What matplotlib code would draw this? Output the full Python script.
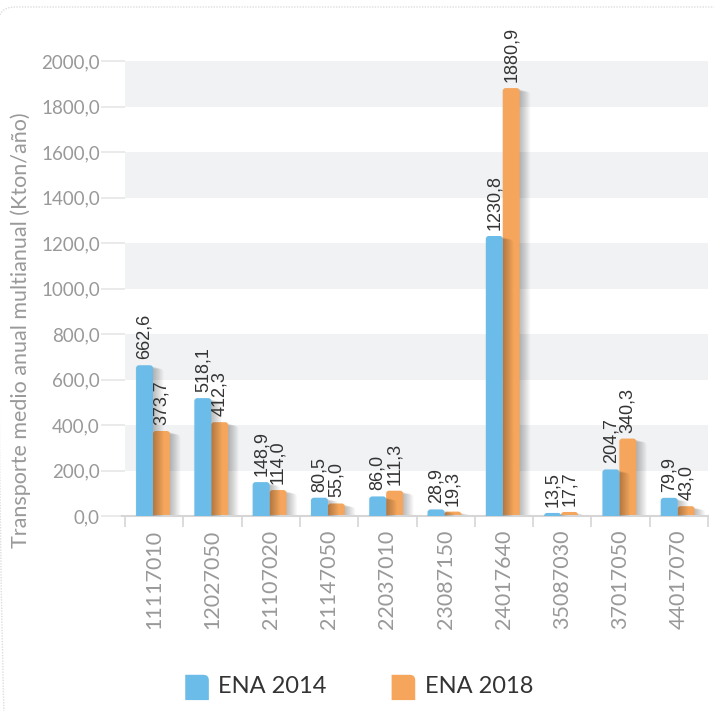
import numpy as np
import matplotlib
matplotlib.use("Agg")
import matplotlib.pyplot as plt
from matplotlib.path import Path
from matplotlib.patches import PathPatch, Patch, FancyBboxPatch
from matplotlib.legend_handler import HandlerPatch

# estaciones y transporte medio (Kton/año) de cada estudio
estaciones = ["11117010", "12027050", "21107020", "21147050", "22037010",
              "23087150", "24017640", "35087030", "37017050", "44017070"]
ena_2014 = [662.6, 518.1, 148.9, 80.5, 86.0, 28.9, 1230.8, 13.5, 204.7, 79.9]
ena_2018 = [373.7, 412.3, 114.0, 55.0, 111.3, 19.3, 1880.9, 17.7, 340.3, 43.0]
series = ["ENA 2014", "ENA 2018"]
colores = ["#6bbce8", "#f5a65c"]

ymax = 2000
W, H, DPI = 714, 711, 100
ax_px = (125, 61, 708, 516)   # izquierda, arriba, derecha, abajo en pixeles

fig = plt.figure(figsize=(W / DPI, H / DPI), dpi=DPI)
ax = fig.add_axes([ax_px[0] / W, 1 - ax_px[3] / H,
                   (ax_px[2] - ax_px[0]) / W, (ax_px[3] - ax_px[1]) / H])
ax.set_xlim(-0.5, len(estaciones) - 0.5)
ax.set_ylim(0, ymax)

# escala pixel -> dato para redondear esquinas y sombras
px_x = (ax_px[2] - ax_px[0]) / len(estaciones)
px_y = (ax_px[3] - ax_px[1]) / ymax


def barra(x0, x1, h, r=3.0):
    """Path de una barra con las esquinas de arriba redondeadas."""
    rx = r / px_x
    ry = min(r / px_y, h)
    verts = [(x0, 0), (x0, h - ry), (x0, h), (x0 + rx, h), (x1 - rx, h),
             (x1, h), (x1, h - ry), (x1, 0), (x0, 0)]
    codes = [Path.MOVETO, Path.LINETO, Path.CURVE3, Path.CURVE3, Path.LINETO,
             Path.CURVE3, Path.CURVE3, Path.LINETO, Path.CLOSEPOLY]
    return Path(verts, codes)


# franjas grises alternadas
for lo in range(200, ymax, 400):
    ax.axhspan(lo, lo + 200, color="#f1f2f4", lw=0, zorder=0)

ancho = 0.29
x = np.arange(len(estaciones))
offsets = [-ancho / 2 - 0.02, ancho / 2 - 0.02]
# se dibuja primero la serie 2018 para que la sombra de 2014 caiga encima
for s in [1, 0]:
    vals = [ena_2014, ena_2018][s]
    z = 2 if s == 1 else 4
    for xi, v in zip(x, vals):
        x0 = xi + offsets[s] - ancho / 2
        x1 = x0 + ancho
        # sombra difusa: copias desplazadas y semitransparentes
        for k in range(1, 15):
            dx = (k * 0.9) / px_x
            sh = barra(x0 - 2 / px_x + dx, x1 - 2 / px_x + dx,
                       max(v - 0.25 * k / px_y, 0.1))
            ax.add_patch(PathPatch(sh, facecolor="black", edgecolor="none",
                                   alpha=0.022, zorder=z))
        ax.add_patch(PathPatch(barra(x0, x1, v), facecolor=colores[s],
                               edgecolor="none", zorder=z + 0.5))
        ax.annotate(f"{v:.1f}".replace(".", ","), (xi + offsets[s], v),
                    xytext=(0, 6), textcoords="offset pixels", rotation=90,
                    ha="center", va="bottom", fontsize=13, color="#333333",
                    family="Liberation Sans", zorder=6)

# ejes
for lado in ["top", "right", "left"]:
    ax.spines[lado].set_visible(False)
ax.spines["bottom"].set_color("#d6d6d6")
ax.spines["bottom"].set_linewidth(1.5)
ax.spines["bottom"].set_bounds(-0.55, len(estaciones) - 0.5)

ax.set_xticks(x)
ax.set_xticklabels(estaciones, rotation=90, fontsize=15.5, color="#999999",
                   family="Lato")
ax.set_xticks(np.arange(len(estaciones) + 1) - 0.5, minor=True)
ax.tick_params(axis="x", which="major", length=0, pad=10)
ax.tick_params(axis="x", which="minor", length=8, width=1.2, color="#d6d6d6")

yt = np.arange(0, ymax + 1, 200)
ax.set_yticks(yt)
ax.set_yticklabels([f"{v:.1f}".replace(".", ",") for v in yt], fontsize=13.5,
                   color="#999999", family="Lato")
ax.tick_params(axis="y", length=17, width=1.2, color="#e6e6e6", pad=1)

fig.text(21 / W, 1 - 330 / H, "Transporte medio anual multianual (Kton/año)",
         rotation=90, ha="center", va="center", fontsize=15.5,
         color="#999999", family="Lato")


# leyenda con el cuadro redondeado arriba a la derecha
def marcador(legend, orig_handle, xdescent, ydescent, width, height, fontsize):
    x0, y0 = -xdescent, -ydescent - 3
    x1, y1 = x0 + width, y0 + height + 3
    r = 4
    verts = [(x0, y0), (x0, y1), (x1 - r, y1), (x1, y1), (x1, y1 - r),
             (x1, y0), (x0, y0)]
    codes = [Path.MOVETO, Path.LINETO, Path.LINETO, Path.CURVE3, Path.CURVE3,
             Path.LINETO, Path.CLOSEPOLY]
    return PathPatch(Path(verts, codes))


handles = [Patch(facecolor=c, edgecolor="none", label=n)
           for c, n in zip(colores, series)]
fig.legend(handles=handles, loc="center", bbox_to_anchor=(0.503, 0.035),
           ncol=2, frameon=False, prop={"family": "Lato", "size": 17},
           labelcolor="#333333", handlelength=1.0, handleheight=1.0,
           handletextpad=0.4, columnspacing=2.75,
           handler_map={Patch: HandlerPatch(patch_func=marcador)})

# borde punteado de la tarjeta (solo se ve el canto superior)
borde = FancyBboxPatch((-2 / W, -0.2), 1.2, 1.2 - 7 / H,
                       boxstyle="round,pad=0,rounding_size=0.024",
                       transform=fig.transFigure, facecolor="none",
                       edgecolor="#dddddd", lw=1, ls=(0, (1, 1)), zorder=0)
fig.patches.append(borde)

fig.savefig("out.png", dpi=DPI)
